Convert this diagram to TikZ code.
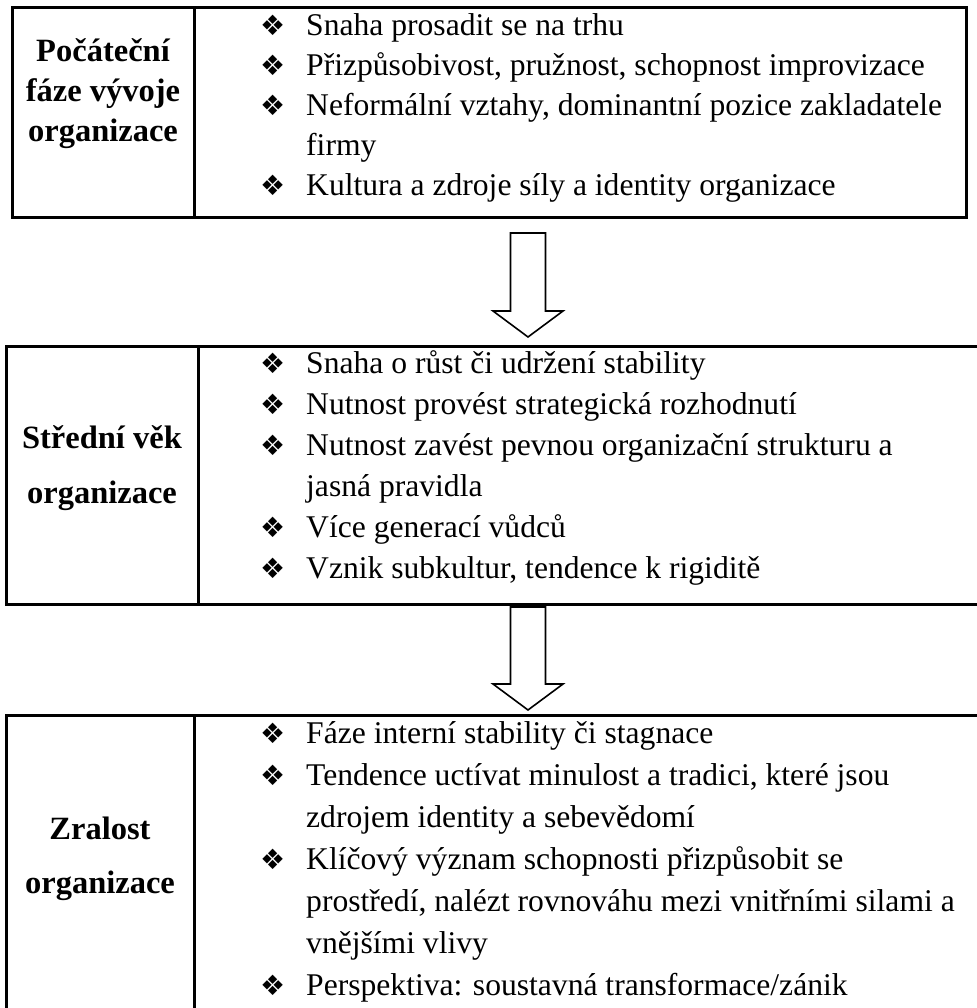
\documentclass[tikz,border=0pt]{standalone}
\usepackage{fontspec}
\setmainfont{Liberation Serif}
\newfontfamily\dingfont{DejaVu Sans}
\usetikzlibrary{calc}

\tikzset{
  stagebox/.style={line width=3pt},
  blockarrow/.style={line width=1.6pt, fill=white, line join=miter},
  itemtext/.style={anchor=base west, inner sep=0pt, font=\fontsize{31.6}{40}\selectfont},
  itembullet/.style={anchor=base west, inner sep=0pt, font=\dingfont\fontsize{28}{28}\selectfont},
  stagelabel/.style={anchor=base, inner sep=0pt, font=\bfseries\fontsize{32.5}{40}\selectfont},
}

\begin{document}
\begin{tikzpicture}[x=1pt, y=-1pt]
    \useasboundingbox (0,0) rectangle (976,1008);
    % the three stage boxes
    \draw[stagebox] (12,8) rectangle (966,218) (194,8) -- (194,218);
    \draw[stagebox] (6,346) rectangle (995,604) (198,346) -- (198,604);
    \draw[stagebox] (6,715) rectangle (995,1030) (194,715) -- (194,1030);

    % stage names
    \node[stagelabel] (lab1a) at (103,62) {Počáteční};
    \node[stagelabel] (lab1b) at (103,102) {fáze vývoje};
    \node[stagelabel] (lab1c) at (103,142) {organizace};
    \node[stagelabel] (lab2a) at (102,448) {Střední věk};
    \node[stagelabel] (lab2b) at (102,503) {organizace};
    \node[stagelabel] (lab3a) at (100,839) {Zralost};
    \node[stagelabel] (lab3b) at (100,893) {organizace};

    % bullets
    \foreach \y [count=\i] in {36,76,116,196,373,414,455,537,578,743,785,869,995}
        \node[itembullet] (bul\i) at (260,\y) {❖};

    % item lines
    \foreach \y/\t [count=\i] in {
        36/{Snaha prosadit se na trhu},
        76/{Přizpůsobivost, pružnost, schopnost improvizace},
        116/{Neformální vztahy, dominantní pozice zakladatele},
        156/{firmy},
        196/{Kultura a zdroje síly a identity organizace},
        373/{Snaha o růst či udržení stability},
        414/{Nutnost provést strategická rozhodnutí},
        455/{Nutnost zavést pevnou organizační strukturu a},
        496/{jasná pravidla},
        537/{Více generací vůdců},
        578/{Vznik subkultur, tendence k rigiditě},
        743/{Fáze interní stability či stagnace},
        785/{Tendence uctívat minulost a tradici, které jsou},
        827/{zdrojem identity a sebevědomí},
        869/{Klíčový význam schopnosti přizpůsobit se},
        911/{prostředí, nalézt rovnováhu mezi vnitřními silami a},
        953/{vnějšími vlivy},
        995/{Perspektiva: soustavná transformace/zánik}}
        \node[itemtext] (txt\i) at (306,\y) {\t};

    % arrows between the stages
    \coordinate (arr1s) at (528,233);
    \coordinate (arr1e) at (528,337);
    \coordinate (arr2s) at (528,607);
    \coordinate (arr2e) at (528,710);
    \foreach \s/\e in {arr1s/arr1e, arr2s/arr2e}
        \draw[blockarrow] ($(\s)+(-17.5,0)$) -- ($(\s)+(17.5,0)$)
            -- ($(\e)+(17.5,-26)$) -- ($(\e)+(35,-26)$) -- (\e)
            -- ($(\e)+(-35,-26)$) -- ($(\e)+(-17.5,-26)$) -- cycle;
\end{tikzpicture}
\end{document}
